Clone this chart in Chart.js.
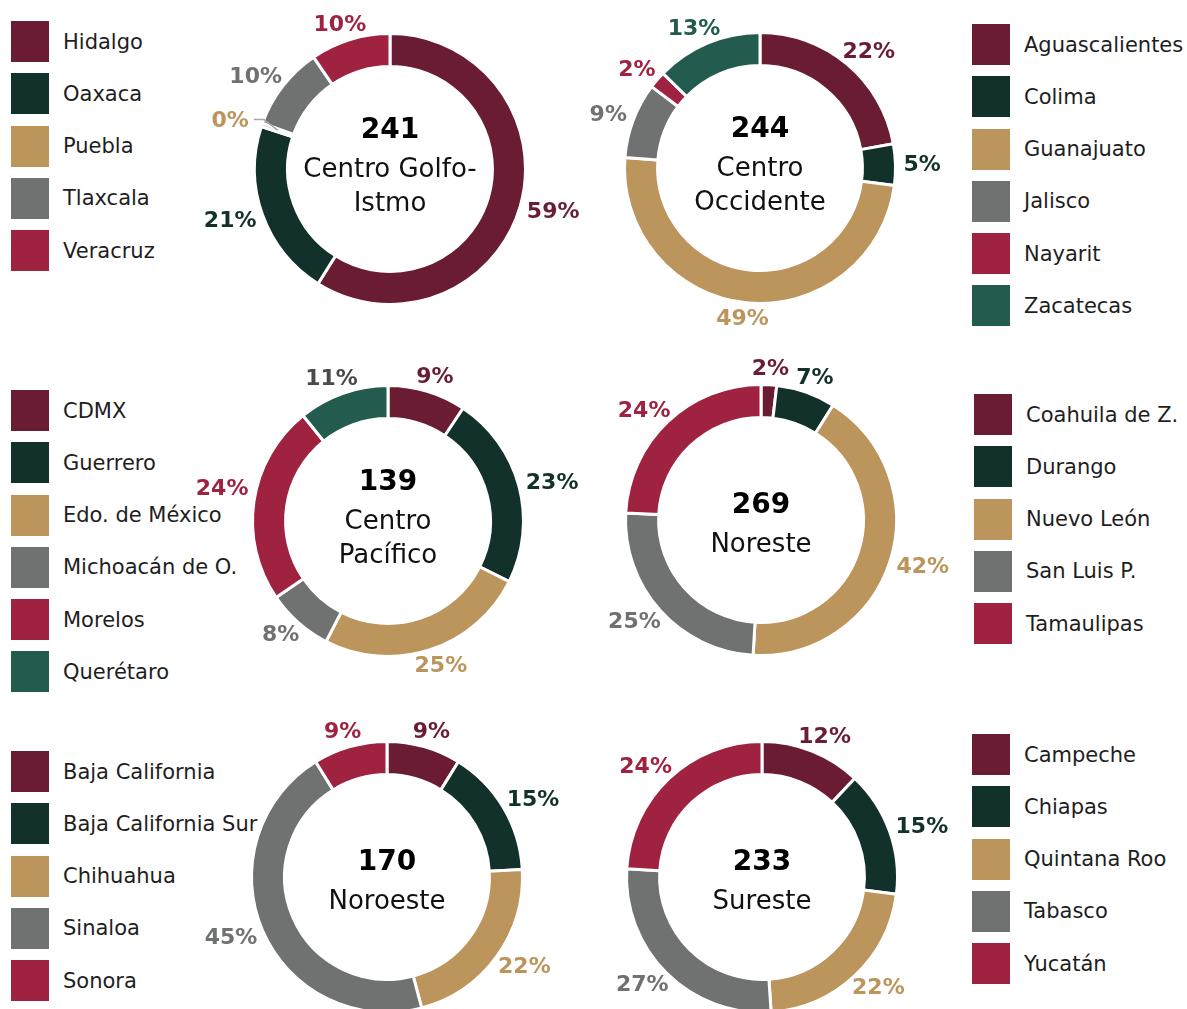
<!DOCTYPE html>
<html>
<head>
<meta charset="utf-8">
<script src="https://cdn.jsdelivr.net/npm/chart.js@4.4.1/dist/chart.umd.min.js"></script>
<style>
  body {
    margin: 0;
    width: 1187px;
    height: 1009px;
    overflow: hidden;
    background: #fff;
    position: relative;
    font-family: "DejaVu Sans", sans-serif;
  }
  canvas { position: absolute; }
  .legend { position: absolute; }
  .legend-item {
    display: flex;
    align-items: center;
    height: 41px;
    margin-bottom: 11.3px;
    font-size: 21px;
    color: #1e1e1e;
    white-space: nowrap;
  }
  .swatch { width: 38px; height: 41px; margin-right: 14px; flex: none; }
</style>
</head>
<body>
<script>
// Palette shared by all regions
const colors = ['#6A1C32', '#13312B', '#BC955C', '#6F7271', '#9F2241', '#235B4E'];

// Centro Golfo-Istmo
const golfoTitle = ['Centro Golfo-', 'Istmo'];
const golfoStates = ['Hidalgo', 'Oaxaca', 'Puebla', 'Tlaxcala', 'Veracruz'];
const golfoValues = [142, 51, 1, 24, 23];

// Centro Occidente
const occidenteTitle = ['Centro', 'Occidente'];
const occidenteStates = ['Aguascalientes', 'Colima', 'Guanajuato', 'Jalisco', 'Nayarit', 'Zacatecas'];
const occidenteValues = [54, 12, 120, 22, 5, 31];

// Centro Pacífico
const pacificoTitle = ['Centro', 'Pacífico'];
const pacificoStates = ['CDMX', 'Guerrero', 'Edo. de México', 'Michoacán de O.', 'Morelos', 'Querétaro'];
const pacificoValues = [13, 32, 35, 11, 33, 15];

// Noreste
const noresteTitle = ['Noreste'];
const noresteStates = ['Coahuila de Z.', 'Durango', 'Nuevo León', 'San Luis P.', 'Tamaulipas'];
const noresteValues = [5, 19, 113, 67, 65];

// Noroeste
const noroesteTitle = ['Noroeste'];
const noroesteStates = ['Baja California', 'Baja California Sur', 'Chihuahua', 'Sinaloa', 'Sonora'];
const noroesteValues = [15, 26, 37, 77, 15];

// Sureste
const suresteTitle = ['Sureste'];
const suresteStates = ['Campeche', 'Chiapas', 'Quintana Roo', 'Tabasco', 'Yucatán'];
const suresteValues = [28, 35, 51, 63, 56];

const FONT = '"DejaVu Sans", sans-serif';
const CANVAS_SIZE = 400;

// page rects of legend swatches/texts, so labels can step around them
function legendRects() {
  return Array.from(document.querySelectorAll('.legend-item span')).map(el => el.getBoundingClientRect());
}

// Percent labels outside the ring
const pctLabels = {
  id: 'pctLabels',
  afterDatasetsDraw(chart, args, opts) {
    const { ctx } = chart;
    const meta = chart.getDatasetMeta(0);
    const values = chart.data.datasets[0].data;
    const total = values.reduce((a, b) => a + b, 0);
    const cRect = chart.canvas.getBoundingClientRect();
    const avoid = legendRects();
    ctx.save();
    ctx.font = 'bold 22px ' + FONT;
    ctx.textAlign = 'center';
    ctx.textBaseline = 'middle';
    meta.data.forEach((arc, i) => {
      const { x, y, startAngle, endAngle, outerRadius, innerRadius } =
        arc.getProps(['x', 'y', 'startAngle', 'endAngle', 'outerRadius', 'innerRadius'], true);
      const mid = (startAngle + endAngle) / 2;
      const share = values[i] / total;
      const text = Math.round(share * 100) + '%';
      const hw = ctx.measureText(text).width / 2;
      const hh = 8;

      const place = (theta) => {
        const dx = Math.cos(theta);
        const dy = Math.sin(theta);
        const r = outerRadius + 8;
        return { x: x + dx * r + dx * hw, y: y + dy * r + dy * hh };
      };
      const hits = (p) => avoid.some(b => {
        const l = cRect.left + p.x - hw - 4, rr = cRect.left + p.x + hw + 4;
        const t = cRect.top + p.y - hh - 6, bb = cRect.top + p.y + hh + 6;
        return l < b.right && rr > b.left && t < b.bottom && bb > b.top;
      });

      let pos;
      if (share < 0.01) {
        // tiny slice: short leader line
        const dx = Math.cos(mid), dy = Math.sin(mid);
        const r0 = (outerRadius + innerRadius) / 2;
        const p0 = { x: x + dx * r0, y: y + dy * r0 };
        const p1 = { x: x + dx * (outerRadius - 2), y: y + dy * (outerRadius - 2) - 6 };
        const p2 = { x: p1.x - 10, y: p1.y };
        ctx.strokeStyle = '#A6A6A6';
        ctx.lineWidth = 1.5;
        ctx.beginPath();
        ctx.moveTo(p0.x, p0.y);
        ctx.lineTo(p1.x, p1.y);
        ctx.lineTo(p2.x, p2.y);
        ctx.stroke();
        pos = { x: p2.x - 5 - hw, y: p2.y + 1 };
      } else {
        pos = place(mid);
        if (hits(pos)) {
          search:
          for (let k = 1; k <= 25; k++) {
            for (const s of [1, -1]) {
              const cand = place(mid + s * k * Math.PI / 180);
              if (!hits(cand)) { pos = cand; break search; }
            }
          }
        }
      }
      ctx.fillStyle = opts.colors[i];
      ctx.fillText(text, pos.x, pos.y + 1);
    });
    ctx.restore();
  }
};

// Total and region name in the hole
const centerText = {
  id: 'centerText',
  afterDraw(chart, args, opts) {
    const { ctx } = chart;
    const arc = chart.getDatasetMeta(0).data[0];
    const cx = arc.x;
    const cy = arc.y;
    const total = chart.data.datasets[0].data.reduce((a, b) => a + b, 0);
    const lines = opts.title;
    const top = cy - 15 - 24 * (lines.length - 1);
    ctx.save();
    ctx.textAlign = 'center';
    ctx.textBaseline = 'middle';
    ctx.fillStyle = '#000';
    ctx.font = 'bold 28px ' + FONT;
    ctx.fillText(String(total), cx, top + 1);
    ctx.fillStyle = '#111';
    ctx.font = '26px ' + FONT;
    lines.forEach((line, i) => {
      ctx.fillText(line, cx, top + 39 + 34 * i + 1);
    });
    ctx.restore();
  }
};

function makeLegend(states, left, top) {
  const div = document.createElement('div');
  div.className = 'legend';
  div.style.left = left + 'px';
  div.style.top = top + 'px';
  states.forEach((name, i) => {
    const item = document.createElement('div');
    item.className = 'legend-item';
    const sw = document.createElement('span');
    sw.className = 'swatch';
    sw.style.background = colors[i];
    const txt = document.createElement('span');
    txt.textContent = name;
    item.appendChild(sw);
    item.appendChild(txt);
    div.appendChild(item);
  });
  document.body.appendChild(div);
}

function makeDonut(states, values, title, cx, cy, labelColors) {
  const canvas = document.createElement('canvas');
  canvas.width = CANVAS_SIZE;
  canvas.height = CANVAS_SIZE;
  canvas.style.left = (cx - CANVAS_SIZE / 2) + 'px';
  canvas.style.top = (cy - CANVAS_SIZE / 2) + 'px';
  canvas.style.width = CANVAS_SIZE + 'px';
  canvas.style.height = CANVAS_SIZE + 'px';
  document.body.appendChild(canvas);

  const pad = (CANVAS_SIZE - 274) / 2;
  return new Chart(canvas, {
    type: 'doughnut',
    data: {
      labels: states,
      datasets: [{
        data: values,
        backgroundColor: colors.slice(0, values.length),
        borderColor: '#ffffff',
        borderWidth: 3
      }]
    },
    options: {
      responsive: false,
      animation: false,
      events: [],
      cutout: '75.6%',
      layout: { padding: pad },
      plugins: {
        legend: { display: false },
        tooltip: { enabled: false },
        pctLabels: { colors: labelColors || colors },
        centerText: { title: title }
      }
    },
    plugins: [pctLabels, centerText]
  });
}

const pacificoLabelColors = colors.slice(0, 5).concat(['#4A4A4A']);

makeLegend(golfoStates, 11, 21);
makeLegend(occidenteStates, 972, 24);
makeLegend(pacificoStates, 11, 390);
makeLegend(noresteStates, 974, 394);
makeLegend(noroesteStates, 11, 751);
makeLegend(suresteStates, 972, 734);

makeDonut(golfoStates, golfoValues, golfoTitle, 390, 169);
makeDonut(occidenteStates, occidenteValues, occidenteTitle, 760, 167.5);
makeDonut(pacificoStates, pacificoValues, pacificoTitle, 388, 520.5, pacificoLabelColors);
makeDonut(noresteStates, noresteValues, noresteTitle, 761, 520);
makeDonut(noroesteStates, noroesteValues, noroesteTitle, 387, 877);
makeDonut(suresteStates, suresteValues, suresteTitle, 762, 877);
</script>
</body>
</html>
